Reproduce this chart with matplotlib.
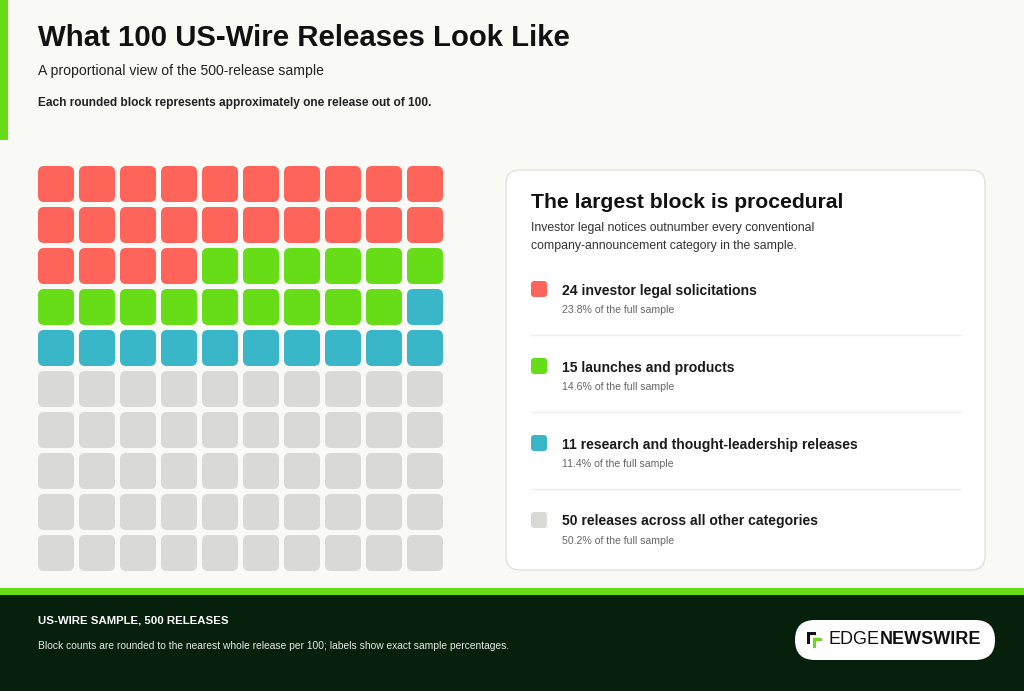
import numpy as np
import matplotlib
matplotlib.use("Agg")
import matplotlib.pyplot as plt
from matplotlib.patches import FancyBboxPatch, Rectangle

plt.rcParams['font.family'] = ['Liberation Sans', 'DejaVu Sans']

# data
counts = [24, 15, 11, 50]
pcts = [23.8, 14.6, 11.4, 50.2]
labels = ["investor legal solicitations", "launches and products",
          "research and thought-leadership releases", "releases across all other categories"]
colors = ["#ff645a", "#66dd17", "#39b7c9", "#d9dad5"]

W, H = 1024, 691
fig = plt.figure(figsize=(W / 100, H / 100), dpi=100)
fig.patch.set_facecolor("#f9f9f6")
ax = fig.add_axes([0, 0, 1, 1])
ax.set_xlim(0, W)
ax.set_ylim(H, 0)
ax.axis("off")


def rbox(x, y, w, h, r, fc, ec="none", lw=0, z=2):
    p = FancyBboxPatch((x, y), w, h, boxstyle="round,pad=0,rounding_size=%g" % r,
                       fc=fc, ec=ec, lw=lw, zorder=z)
    ax.add_patch(p)


# header
ax.add_patch(Rectangle((0, 0), 8, 140, fc="#66dd17", ec="none"))
ax.text(38, 37.5, "What 100 US-Wire Releases Look Like", fontsize=21.2, fontweight="bold",
        va="center", ha="left", color="#111111")
ax.text(38, 70.5, "A proportional view of the 500-release sample", fontsize=10.1,
        va="center", ha="left", color="#222222")
ax.text(38, 103, "Each rounded block represents approximately one release out of 100.",
        fontsize=8.6, fontweight="bold", va="center", ha="left", color="#222222")

# waffle
cells = np.repeat(np.arange(len(counts)), counts)
for i, c in enumerate(cells):
    row, col = divmod(i, 10)
    rbox(38 + col * 41, 166 + row * 41, 36, 36, 6, colors[c])

# card
rbox(506, 170, 479, 400, 14, "white", ec="#e2e2dc", lw=1.0, z=1)
ax.text(531, 202, "The largest block is procedural", fontsize=15.2, fontweight="bold",
        va="center", ha="left", color="#111111")
ax.text(531, 228, "Investor legal notices outnumber every conventional", fontsize=8.8,
        va="center", ha="left", color="#333333")
ax.text(531, 246, "company-announcement category in the sample.", fontsize=8.8,
        va="center", ha="left", color="#333333")

for k in range(len(counts)):
    y = 290 + k * 77
    rbox(531, y - 9, 16, 16, 3, colors[k])
    ax.text(562, y + 0.5, "%d %s" % (counts[k], labels[k]), fontsize=10.05, fontweight="bold",
            va="center", ha="left", color="#1a1a1a")
    ax.text(562, y + 20, "%.1f%% of the full sample" % pcts[k], fontsize=7.6,
            va="center", ha="left", color="#666666")
    if k < len(counts) - 1:
        ax.plot([531, 960], [y + 45, y + 45], color="#ececea", lw=1.0, zorder=3)

# footer
ax.add_patch(Rectangle((0, 588), W, 7, fc="#66dd17", ec="none"))
ax.add_patch(Rectangle((0, 595), W, 96, fc="#06200b", ec="none"))
ax.text(38, 620.5, "US-WIRE SAMPLE, 500 RELEASES", fontsize=8.2, fontweight="bold",
        va="center", ha="left", color="white")
ax.text(38, 646, "Block counts are rounded to the nearest whole release per 100; labels show exact sample percentages.",
        fontsize=7.35, va="center", ha="left", color="#e8e8e8")

# logo pill
rbox(795, 620, 200, 40, 20, "white", z=3)
ax.add_patch(Rectangle((807, 632), 9, 3, fc="#111111", ec="none", zorder=4))
ax.add_patch(Rectangle((807, 632), 3, 12, fc="#111111", ec="none", zorder=4))
ax.add_patch(Rectangle((813, 638), 9, 3, fc="#66dd17", ec="none", zorder=4))
ax.add_patch(Rectangle((813, 638), 3, 10, fc="#66dd17", ec="none", zorder=4))
t = ax.text(828, 640, "EDGE", fontsize=13, va="center", ha="left", color="#111111", zorder=5)
fig.canvas.draw()
bb = t.get_window_extent()
x_end = ax.transData.inverted().transform((bb.x1, 0))[0]
ax.text(x_end + 1, 640, "NEWSWIRE", fontsize=13, fontweight="bold", va="center", ha="left",
        color="#111111", zorder=5)

fig.savefig("out.png", dpi=100, facecolor=fig.get_facecolor())
